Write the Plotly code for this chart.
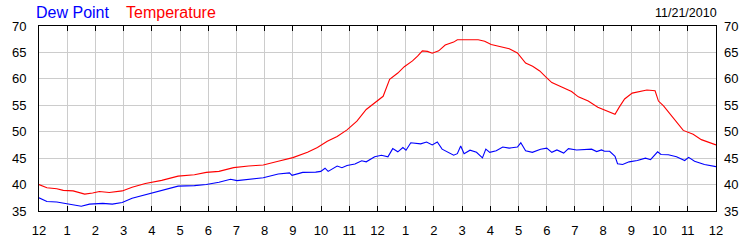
import plotly.graph_objects as go

# ---- data (hours since midnight, degrees F) ----
temp_hours = [0.0, 0.28, 0.63, 0.86, 1.21, 1.62, 1.9, 2.14, 2.49, 2.95, 3.3, 3.77, 4.35, 4.93, 5.51,
              5.93, 6.38, 6.9, 7.43, 7.95, 8.48, 9.0, 9.52, 9.87, 10.22, 10.57, 10.92, 11.27, 11.6, 11.9,
              12.2, 12.43, 12.72, 12.95, 13.24, 13.42, 13.59, 13.77, 13.94, 14.17, 14.4, 14.7, 14.83,
              15.57, 15.8, 16.03, 16.32, 16.67, 16.96, 17.25, 17.5, 17.75, 18.0, 18.18, 18.53, 18.88,
              19.12, 19.47, 19.81, 20.16, 20.42, 20.57, 20.76, 21.03, 21.32, 21.55, 21.84, 21.96,
              22.14, 22.43, 22.84, 23.19, 23.48, 24.0]
temp_vals = [40.0, 39.4, 39.2, 38.9, 38.8, 38.2, 38.4, 38.7, 38.5, 38.8, 39.5, 40.2, 40.8, 41.6, 41.85,
             42.3, 42.5, 43.2, 43.5, 43.7, 44.4, 45.1, 46.1, 47.0, 48.2, 49.1, 50.35, 52.0, 54.2, 55.5,
             56.7, 59.9, 61.1, 62.3, 63.4, 64.3, 65.3, 65.2, 64.85, 65.3, 66.4, 66.95, 67.4,
             67.4, 67.1, 66.5, 66.1, 65.7, 64.9, 63.0, 62.4, 61.5, 60.2, 59.3, 58.45, 57.6,
             56.6, 55.8, 54.65, 53.9, 53.3, 54.65, 56.2, 57.3, 57.7, 57.9, 57.75, 55.8,
             54.9, 52.9, 50.25, 49.5, 48.5, 47.5]

dew_hours = [0.0, 0.28, 0.63, 0.98, 1.5, 1.79, 2.26, 2.6, 2.95, 3.3, 3.88, 4.46, 4.93, 5.51, 5.93,
             6.38, 6.79, 7.02, 7.43, 7.95, 8.48, 8.88, 8.97, 9.35, 9.81, 9.99, 10.14, 10.25, 10.57,
             10.74, 10.92, 11.2, 11.44, 11.6, 11.9, 12.14, 12.37, 12.54, 12.72, 12.9, 13.01, 13.18,
             13.53, 13.74, 13.94, 14.12, 14.29, 14.52, 14.7, 14.83, 14.95, 15.07, 15.28, 15.51,
             15.72, 15.84, 15.98, 16.21, 16.44, 16.67, 16.96, 17.08, 17.25, 17.49, 17.78, 18.0,
             18.18, 18.36, 18.6, 18.77, 19.06, 19.59, 19.77, 19.94, 20.05, 20.23, 20.42, 20.51,
             20.69, 20.92, 21.21, 21.5, 21.68, 21.93, 22.05, 22.31, 22.6, 22.89, 23.03, 23.24,
             23.59, 24.0]
dew_vals = [37.5, 36.8, 36.7, 36.4, 35.9, 36.3, 36.45, 36.3, 36.6, 37.4, 38.2, 39.1, 39.7, 39.8, 40.0,
            40.45, 41.0, 40.75, 41.0, 41.3, 42.0, 42.2, 41.75, 42.3, 42.35, 42.5, 43.1, 42.5, 43.5,
            43.2, 43.6, 43.9, 44.5, 44.3, 45.25, 45.55, 45.25, 46.8, 46.2, 47.0, 46.5, 47.9,
            47.7, 48.05, 47.5, 48.05, 46.7, 46.0, 45.55, 45.85, 47.3, 45.85, 46.5, 46.1,
            45.05, 46.7, 46.1, 46.4, 47.1, 46.9, 47.1, 47.9, 46.4, 46.1, 46.7, 46.9,
            46.1, 46.55, 45.95, 46.8, 46.55, 46.7, 46.25, 46.55, 46.3, 46.3, 45.35, 43.95,
            43.8, 44.3, 44.55, 45.0, 44.7, 46.2, 45.7, 45.65, 45.25, 44.55, 45.15, 44.4,
            43.8, 43.4]

x_tick_vals = list(range(0, 25))
x_tick_text = ["12", "1", "2", "3", "4", "5", "6", "7", "8", "9", "10", "11",
               "12", "1", "2", "3", "4", "5", "6", "7", "8", "9", "10", "11", "12"]
y_tick_vals = [35, 40, 45, 50, 55, 60, 65, 70]

FONT = "Liberation Sans, Arial, sans-serif"

fig = go.Figure()
fig.add_trace(go.Scatter(x=dew_hours, y=dew_vals, mode="lines",
                         line=dict(color="#0000ff", width=1.1), name="Dew Point"))
fig.add_trace(go.Scatter(x=temp_hours, y=temp_vals, mode="lines",
                         line=dict(color="#ff0000", width=1.1), name="Temperature"))
# invisible trace to activate right axis
fig.add_trace(go.Scatter(x=[0], y=[35], yaxis="y2", mode="markers",
                         marker=dict(opacity=0), hoverinfo="skip", showlegend=False))

fig.update_layout(
    width=750, height=250,
    margin=dict(l=32, r=30, t=26, b=25),
    paper_bgcolor="white", plot_bgcolor="white",
    showlegend=False,
    font=dict(family=FONT, size=12, color="black"),
    xaxis=dict(range=[0, 24], tickvals=x_tick_vals, ticktext=x_tick_text,
               showgrid=True, gridcolor="#cccccc", gridwidth=1,
               showline=True, linecolor="black", linewidth=1, mirror="ticks",
               ticks="inside", ticklen=5, tickcolor="black",
               ticklabelstandoff=7, zeroline=False,
               tickfont=dict(family=FONT, size=13, color="black")),
    yaxis=dict(range=[35, 70], tickvals=y_tick_vals,
               showgrid=True, gridcolor="#cccccc", gridwidth=1,
               showline=True, linecolor="black", linewidth=1, mirror=True,
               ticks="", ticklabelstandoff=9, zeroline=False,
               tickfont=dict(family=FONT, size=13, color="black")),
    yaxis2=dict(range=[35, 70], tickvals=y_tick_vals, overlaying="y", side="right",
                showgrid=False, showline=False, ticks="", ticklabelstandoff=7,
                zeroline=False, tickfont=dict(family=FONT, size=13, color="black")),
    annotations=[
        dict(text="Dew Point", xref="paper", yref="paper", x=(27 - 32) / 688, y=(225 - 12) / 199,
             xanchor="left", yanchor="middle", showarrow=False,
             font=dict(family=FONT, size=16, color="#0000ff")),
        dict(text="Temperature", xref="paper", yref="paper", x=(118 - 32) / 688, y=(225 - 12) / 199,
             xanchor="left", yanchor="middle", showarrow=False,
             font=dict(family=FONT, size=16, color="#ff0000")),
        dict(text="11/21/2010", xref="paper", yref="paper", x=(723 - 32) / 688, y=(225 - 12) / 199,
             xanchor="right", yanchor="middle", showarrow=False,
             font=dict(family=FONT, size=12.5, color="black")),
    ],
)

fig.write_html("out.html")
